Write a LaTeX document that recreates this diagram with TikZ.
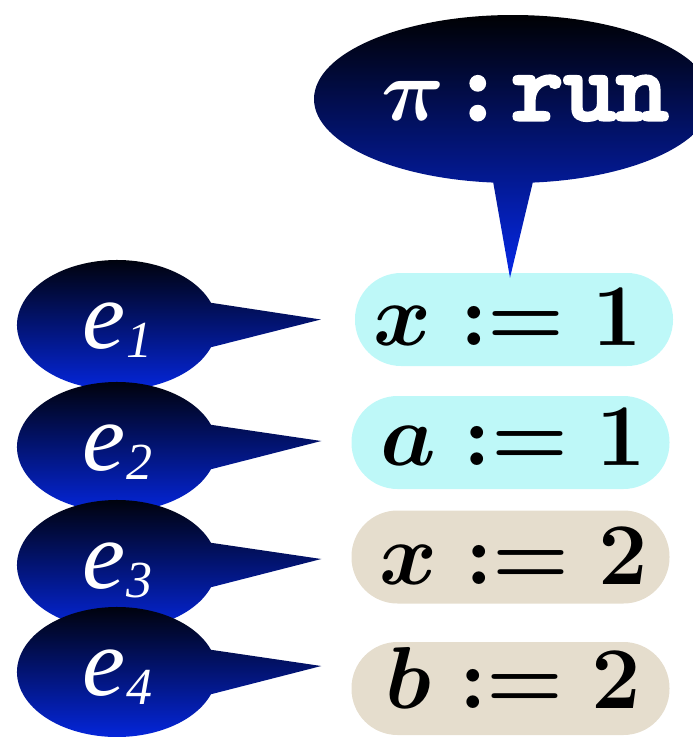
\documentclass[tikz,border=0pt]{standalone}
\usepackage{fix-cm}
\usepackage{fontspec}
\newfontfamily\efont{Liberation Serif}
\newfontfamily\runfont{lmmonolt10-bold.otf}[FakeBold=3]
\definecolor{boxcyan}{RGB}{190,248,248}
\definecolor{boxbeige}{RGB}{229,221,205}
\definecolor{callblue}{RGB}{5,40,232}
\tikzset{
  stmt/.style={rounded corners=46pt, minimum width=318pt, minimum height=93pt, inner sep=0pt},
  stmttext/.style={anchor=base, inner sep=0pt, font=\fontsize{88}{88}\selectfont\boldmath},
  bubble/.style={top color=black, bottom color=callblue},
  elabel/.style={anchor=base, inner sep=0pt, text=white, font=\fontsize{97}{97}\selectfont\efont\itshape},
  toplabel/.style={anchor=base west, inner sep=0pt, text=white},
}
\newcommand{\esub}[1]{\raisebox{-9pt}{\fontsize{52}{52}\selectfont #1}}
\begin{document}
\begin{tikzpicture}[x=1pt,y=-1pt]
\useasboundingbox (0,0) rectangle (693,737);
\clip (0,0) rectangle (693,737);
% statement boxes
\node[stmt, fill=boxcyan]  (b1) at (514,319.5) {};
\node[stmt, fill=boxcyan]  (b2) at (510.5,442.5) {};
\node[stmt, fill=boxbeige] (b3) at (510.5,557) {};
\node[stmt, fill=boxbeige] (b4) at (510.5,688.5) {};
\node[stmttext] (t1) at (508,345) {$x := 1$};
\node[stmttext] (t2) at (513,465) {$a := 1$};
\node[stmttext] (t3) at (513.5,584) {$x := 2$};
\node[stmttext] (t4) at (513.5,708) {$b := 2$};
% pointer tips
\coordinate (p0) at ([xshift=-4pt,yshift=-5pt]b1.north);
\coordinate (p1) at ([xshift=-34pt]b1.west);
\coordinate (p2) at ([xshift=-30pt,yshift=1.5pt]b2.west);
\coordinate (p3) at ([xshift=-30pt,yshift=-2pt]b3.west);
\coordinate (p4) at ([xshift=-30pt,yshift=22.5pt]b4.west);
% bubble centres
\coordinate (c0) at (513,99);
\coordinate (c1) at (117,325);
\coordinate (c2) at (117,447);
\coordinate (c3) at (117,565);
\coordinate (c4) at (117,672);
% top callout
\shade[bubble] (c0) ++(95.7:199 and 84) arc[start angle=95.7, end angle=444.3, x radius=199, y radius=84] -- (p0) -- cycle;
\node[toplabel] (run) at (381,120) {{\fontsize{88}{88}\selectfont\boldmath$\pi$}\hspace{7pt}{\fontsize{100}{100}\selectfont\runfont :\hspace{7pt}run}};
% event callouts
\shade[bubble] (c1) ++(20:100 and 65) arc[start angle=20, end angle=340, x radius=100, y radius=65] -- (p1) -- cycle;
\node[elabel] (e1) at (117.5,348) {e\esub{1}};
\shade[bubble] (c2) ++(20:100 and 65) arc[start angle=20, end angle=340, x radius=100, y radius=65] -- (p2) -- cycle;
\node[elabel] (e2) at (117.5,470) {e\esub{2}};
\shade[bubble] (c3) ++(20:100 and 65) arc[start angle=20, end angle=340, x radius=100, y radius=65] -- (p3) -- cycle;
\node[elabel] (e3) at (117.5,588) {e\esub{3}};
\shade[bubble] (c4) ++(20:100 and 65) arc[start angle=20, end angle=340, x radius=100, y radius=65] -- (p4) -- cycle;
\node[elabel] (e4) at (117.5,695) {e\esub{4}};
\end{tikzpicture}
\end{document}
